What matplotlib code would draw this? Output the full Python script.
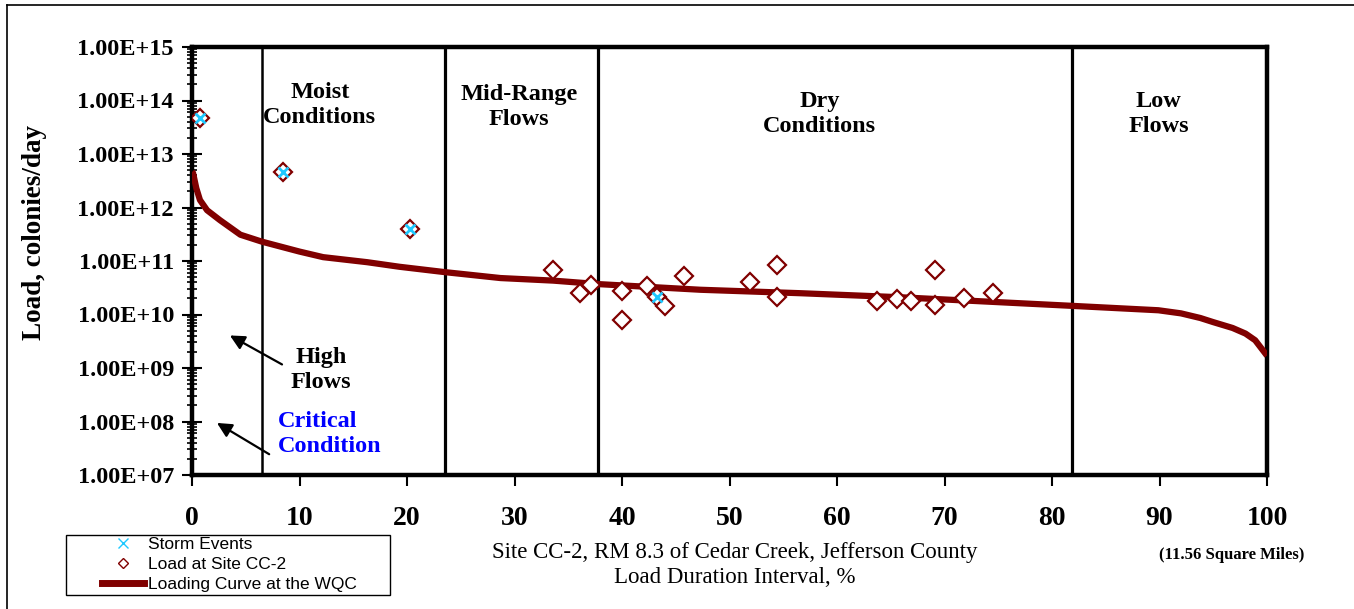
import numpy as np
import matplotlib
matplotlib.use("Agg")
import matplotlib.pyplot as plt
from matplotlib.lines import Line2D
from matplotlib.patches import Rectangle
from matplotlib.ticker import LogLocator, FixedLocator, NullFormatter

## Loading curve at the WQC
curve_pct = [0, 0.1, 0.4, 0.74, 1.4, 2.6, 4.5, 6.5, 10, 12.2, 16.3, 19.3, 23.5, 28.7, 33.6, 37.8,
             47.3, 56.6, 65.9, 81.9, 89.9, 92, 93.8, 95, 96.8, 98, 98.9, 99.5, 100]
curve_load = [4.6e12, 4.4e12, 2.3e12, 1.38e12, 8.9e11, 5.8e11, 3.1e11, 2.3e11, 1.5e11, 1.18e11,
              9.5e10, 7.8e10, 6.2e10, 4.8e10, 4.3e10, 3.7e10, 2.9e10, 2.5e10, 2.1e10, 1.45e10,
              1.2e10, 1.05e10, 8.6e9, 7.2e9, 5.6e9, 4.4e9, 3.3e9, 2.3e9, 1.7e9]

## Load at Site CC-2
site_pct = [0.74, 8.5, 20.3, 33.6, 36.1, 37.1, 40.0, 40.0, 42.3, 43.3, 44.0, 45.8, 51.9, 54.4, 54.4,
            63.7, 65.6, 66.9, 69.1, 69.1, 71.8, 74.5]
site_load = [4.7e13, 4.6e12, 4.0e11, 6.8e10, 2.5e10, 3.5e10, 2.75e10, 7.9e9, 3.4e10, 2.1e10, 1.45e10,
             5.2e10, 4.1e10, 8.5e10, 2.1e10, 1.8e10, 1.95e10, 1.8e10, 6.8e10, 1.5e10, 2.05e10, 2.5e10]

## Storm events
storm_pct = [0.74, 8.5, 20.3, 43.3]
storm_load = [4.7e13, 4.6e12, 4.0e11, 2.1e10]

## Flow zone boundaries and labels
zone_edges = [6.5, 23.5, 37.8, 81.9]
zone_labels = ["Moist\nConditions", "Mid-Range\nFlows", "Dry\nConditions", "Low\nFlows"]
zone_label_x = [11.9, 30.4, 58.4, 89.9]
zone_label_y = [8.3e13, 7.5e13, 5.6e13, 5.6e13]

y_ticks = [1e7, 1e8, 1e9, 1e10, 1e11, 1e12, 1e13, 1e14, 1e15]
y_tick_labels = ["1.00E+07", "1.00E+08", "1.00E+09", "1.00E+10", "1.00E+11",
                 "1.00E+12", "1.00E+13", "1.00E+14", "1.00E+15"]
x_ticks = [0, 10, 20, 30, 40, 50, 60, 70, 80, 90, 100]

dark_red = "#800000"
cyan = "#1ec8ff"
serif = "Liberation Serif"

fig = plt.figure(figsize=(13.54, 6.09), dpi=100)
ax = fig.add_axes([192 / 1354, 1 - 475 / 609, 1075 / 1354, 428 / 609])

ax.plot(curve_pct, curve_load, color=dark_red, lw=4.5, solid_capstyle="butt",
        solid_joinstyle="round", zorder=3)
ax.plot(site_pct, site_load, ls="none", marker="D", ms=9, mfc="white", mec=dark_red, mew=1.6, zorder=4)
ax.plot(storm_pct, storm_load, ls="none", marker="x", ms=6.5, mec=cyan, mew=2, zorder=5)

for i, xe in enumerate(zone_edges):
    ax.axvline(xe, color="black", lw=1.8 if i == 0 else 2.3, zorder=2)

for lbl, lx, ly in zip(zone_labels, zone_label_x, zone_label_y):
    ax.text(lx, ly, lbl, ha="center", va="center", fontsize=17.5, fontweight="bold",
            family=serif, linespacing=1.25)

ax.text(12.0, 9.2e8, "High\nFlows", ha="center", va="center", fontsize=17.5, fontweight="bold",
        family=serif, linespacing=1.25)
ax.text(8.0, 5.8e7, "Critical\nCondition", ha="left", va="center", fontsize=17.5, fontweight="bold",
        family=serif, color="#0000ff", linespacing=1.25)

# arrows
ax.annotate("", xy=(3.3, 4.3e9), xytext=(8.6, 1.1e9),
            arrowprops=dict(arrowstyle="-|>", color="black", lw=1.6, mutation_scale=22))
ax.annotate("", xy=(2.1, 1.0e8), xytext=(7.4, 2.3e7),
            arrowprops=dict(arrowstyle="-|>", color="black", lw=1.6, mutation_scale=22))

ax.set_yscale("log")
ax.set_xlim(0, 100)
ax.set_ylim(1e7, 1e15)
ax.yaxis.set_major_locator(FixedLocator(y_ticks))
ax.set_yticklabels(y_tick_labels)
ax.yaxis.set_minor_locator(LogLocator(base=10, subs=np.arange(2, 10), numticks=20))
ax.yaxis.set_minor_formatter(NullFormatter())
ax.set_xticks(x_ticks)
ax.set_xticklabels([str(t) for t in x_ticks])

for sp in ax.spines.values():
    sp.set_linewidth(3.2)
ax.tick_params(axis="y", which="major", direction="inout", length=14, width=1.5, pad=6)
ax.tick_params(axis="y", which="minor", direction="inout", length=7, width=1.2)
ax.tick_params(axis="x", which="major", direction="out", length=8, width=1.5, pad=14)
for t in ax.get_yticklabels():
    t.set_fontfamily(serif)
    t.set_fontweight("bold")
    t.set_fontsize(17.5)
for t in ax.get_xticklabels():
    t.set_fontfamily(serif)
    t.set_fontweight("bold")
    t.set_fontsize(20)

fig.text(35 / 1354, 1 - 233 / 609, "Load, colonies/day", rotation=90, ha="center", va="center",
         fontsize=19.5, fontweight="bold", family=serif)

fig.text(735 / 1354, 1 - 565 / 609, "Site CC-2, RM 8.3 of Cedar Creek, Jefferson County\nLoad Duration Interval, %",
         ha="center", va="center", fontsize=16.5, family=serif, linespacing=1.3)
fig.text(1232 / 1354, 1 - 555 / 609, "(11.56 Square Miles)", ha="center", va="center",
         fontsize=12, fontweight="bold", family=serif)

# legend: box drawn by hand, entries placed inside it
fig.add_artist(Rectangle((66 / 1354, 1 - 595 / 609), 324 / 1354, 60 / 609, transform=fig.transFigure,
                         fill=False, edgecolor="black", lw=1.0))
handles = [
    Line2D([], [], ls="none", marker="x", ms=6.5, mec=cyan, mew=1),
    Line2D([], [], ls="none", marker="D", ms=5.5, mfc="white", mec=dark_red, mew=1),
    Line2D([], [], color=dark_red, lw=5),
]
leg = fig.legend(handles, ["Storm Events", "Load at Site CC-2", "Loading Curve at the WQC"],
                 loc="upper left", bbox_to_anchor=(102 / 1354, 1 - 537 / 609), frameon=False,
                 prop={"family": "Liberation Sans", "size": 12.5}, handlelength=2.4,
                 labelspacing=0.27, borderpad=0, handletextpad=0.25, borderaxespad=0)

# outer frame (top and left edges)
fig.add_artist(Line2D([7 / 1354, 7 / 1354], [0, 1 - 5 / 609], color="black", lw=1.2, transform=fig.transFigure))
fig.add_artist(Line2D([7 / 1354, 1], [1 - 5 / 609, 1 - 5 / 609], color="black", lw=1.2, transform=fig.transFigure))

fig.savefig("out.png", dpi=100)
